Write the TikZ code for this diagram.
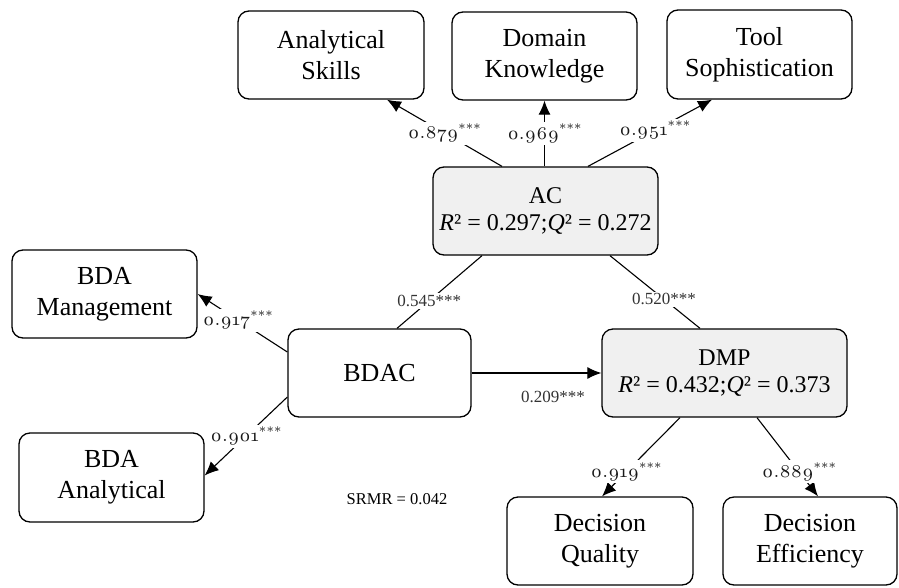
\documentclass[tikz,border=0pt]{standalone}
\usepackage{fontspec}
\setmainfont{Liberation Serif}
\newfontfamily\osf{lmroman7-regular}[Extension=.otf, Numbers=OldStyle, LetterSpace=1]
\usetikzlibrary{arrows.meta}
\newcommand\osl[1]{#1\raisebox{0.3em}{\fontsize{13}{13}\selectfont ***}}
\begin{document}
\begin{tikzpicture}[x=1pt,y=-1pt,
  box/.style={draw, line width=1.3pt, rounded corners=11pt, align=center,
    font=\fontsize{26}{31}\selectfont, inner sep=0pt},
  cons/.style={box, fill=black!6, font=\fontsize{24}{27}\selectfont},
  arr/.style={line width=1.1pt, -{Latex[length=14pt,width=12pt]}},
  ln/.style={line width=1.1pt},
  lbl/.style={fill=white, inner sep=2pt, font=\osf\fontsize{18}{18}\selectfont, text=black!90},
  coef/.style={fill=white, inner sep=2pt, font=\fontsize{17}{17}\selectfont, text=black!80}]
\useasboundingbox (0,0) rectangle (899,587);

\node[box, minimum width=186pt, minimum height=88pt] (AS) at (331,55) {Analytical\\Skills};
\node[box, minimum width=185pt, minimum height=88pt] (DK) at (544.5,56) {Domain\\Knowledge};
\node[box, minimum width=185pt, minimum height=89pt] (TS) at (759.5,54.5) {Tool\\Sophistication};
\node[cons, minimum width=225pt, minimum height=88pt] (AC) at (545.5,211) {AC\\\textit{R}² = 0.297;\textit{Q}² = 0.272};
\node[box, minimum width=185pt, minimum height=88pt] (BM) at (104.5,294) {BDA\\Management};
\node[box, minimum width=183pt, minimum height=88pt] (BDAC) at (379.5,373) {BDAC};
\node[cons, minimum width=245pt, minimum height=88pt] (DMP) at (724.5,373) {DMP\\\textit{R}² = 0.432;\textit{Q}² = 0.373};
\node[box, minimum width=185pt, minimum height=89pt] (BA) at (111.5,477.5) {BDA\\Analytical};
\node[box, minimum width=186pt, minimum height=88pt] (DQ) at (600,541) {Decision\\Quality};
\node[box, minimum width=174pt, minimum height=88pt] (DE) at (810,541) {Decision\\Efficiency};

\draw[arr] ([xshift=-43.5pt]AC.north) -- node[lbl,pos=0.5]{\osl{0.879}} ([xshift=56pt]AS.south);
\draw[arr] ([xshift=-1pt]AC.north) -- node[lbl,pos=0.5]{\osl{0.969}} (DK.south);
\draw[arr] ([xshift=42.5pt]AC.north) -- node[lbl,pos=0.54]{\osl{0.951}} ([xshift=-47.5pt]TS.south);
\draw[ln] ([xshift=17.5pt]BDAC.north) -- node[coef,pos=0.38]{0.545***} ([xshift=-63.5pt]AC.south);
\draw[ln] ([xshift=64.5pt]AC.south) -- node[coef,pos=0.6]{0.520***} ([xshift=-24.5pt]DMP.north);
\draw[arr] (BDAC.east) -- (DMP.west);
\node[coef] (c209) at (553,397) {0.209***};
\draw[arr] ([yshift=21pt]BDAC.west) -- node[lbl,pos=0.55]{\osl{0.917}} (BM.east);
\draw[arr] ([yshift=-24pt]BDAC.west) -- node[lbl,pos=0.5]{\osl{0.901}} ([yshift=2pt]BA.east);
\draw[arr] ([xshift=-44.5pt]DMP.south) -- node[lbl,pos=0.69]{\osl{0.919}} ([xshift=2pt]DQ.north);
\draw[arr] ([xshift=32.5pt]DMP.south) -- node[lbl,pos=0.69]{\osl{0.889}} ([xshift=8pt]DE.north);

\node[font=\fontsize{16.5}{16.5}\selectfont] (srmr) at (397,499) {SRMR = 0.042};
\end{tikzpicture}
\end{document}
